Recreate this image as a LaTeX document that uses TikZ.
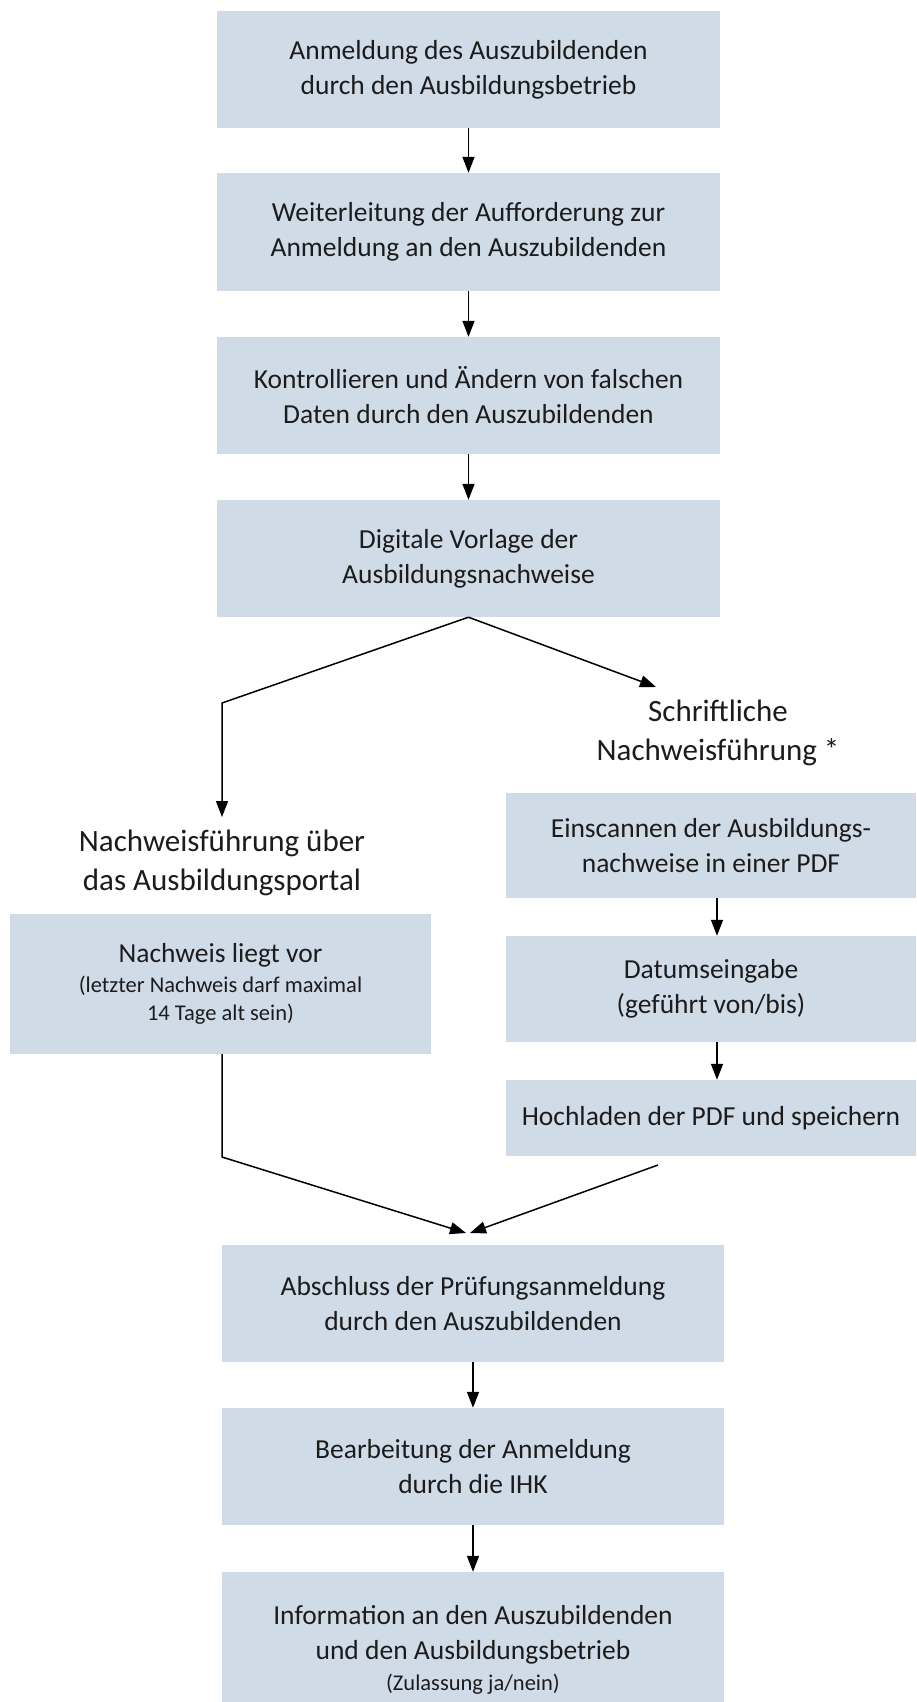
\documentclass[tikz,border=0pt]{standalone}
\usepackage{fontspec}
\setmainfont{Carlito}
\usetikzlibrary{arrows.meta}
\definecolor{boxblue}{RGB}{208,219,232}
\definecolor{txt}{RGB}{28,28,28}
\begin{document}
\begin{tikzpicture}[x=1pt,y=-1pt,
  box/.style={fill=boxblue, draw=none, inner sep=0pt, align=center, text=txt,
              font=\fontsize{27.5}{35}\selectfont},
  head/.style={inner sep=0pt, align=center, text=txt, font=\fontsize{31}{39}\selectfont},
  arr/.style={-{Triangle[length=16pt,width=12pt]}, line width=1.5pt, draw=black}]
\clip (0,0) rectangle (916,1702);
\fill[white] (0,0) rectangle (916,1702);
% main column
\node[box, minimum width=503pt, minimum height=117pt] (b1) at (468.5,69.5)
  {Anmeldung des Auszubildenden\\durch den Ausbildungsbetrieb};
\node[box, minimum width=503pt, minimum height=118pt] (b2) at (468.5,232)
  {Weiterleitung der Aufforderung zur\\Anmeldung an den Auszubildenden};
\node[box, minimum width=503pt, minimum height=117pt] (b3) at (468.5,395.5)
  {Kontrollieren und Ändern von falschen\\Daten durch den Auszubildenden};
\node[box, minimum width=503pt, minimum height=117pt] (b4) at (468.5,558.5)
  {Digitale Vorlage der\\Ausbildungsnachweise};
% headings
\node[head] (rh) at (718,733) {Schriftliche\\Nachweisführung *};
\node[head] (lh) at (222,862.5) {Nachweisführung über\\das Ausbildungsportal};
% right column
\node[box, minimum width=410pt, minimum height=105pt] (r1) at (711,845.5)
  {Einscannen der Ausbildungs-\\nachweise in einer PDF};
\node[box, minimum width=410pt, minimum height=106pt] (r2) at (711,989)
  {Datumseingabe\\(geführt von/bis)};
\node[box, minimum width=410pt, minimum height=76pt] (r3) at (711,1118)
  {Hochladen der PDF und speichern};
% left box
\node[box, minimum width=421pt, minimum height=140pt] (L) at (220.5,984)
  {Nachweis liegt vor\\[-5pt]\fontsize{22.5}{29}\selectfont(letzter Nachweis darf maximal\\[-7pt]\fontsize{22.5}{29}\selectfont 14 Tage alt sein)};
% bottom column
\node[box, minimum width=502pt, minimum height=117pt] (b5) at (473,1303.5)
  {Abschluss der Prüfungsanmeldung\\durch den Auszubildenden};
\node[box, minimum width=502pt, minimum height=117pt] (b6) at (473,1466.5)
  {Bearbeitung der Anmeldung\\durch die IHK};
\node[box, minimum width=502pt, minimum height=156pt] (b7) at (473,1650)
  {Information an den Auszubildenden\\und den Ausbildungsbetrieb\\[-4pt]\fontsize{22.5}{29}\selectfont(Zulassung ja/nein)};
% coordinates
\coordinate (lc) at (222,703);
\coordinate (lt) at (222,817);
\coordinate (rt) at (656,687);
\coordinate (lb) at (222,1157);
\coordinate (m1) at (466,1233);
\coordinate (rb) at (658,1165);
\coordinate (m2) at (470,1233);
% connectors
\draw[arr] (b1.south) -- (b2.north);
\draw[arr] (b2.south) -- (b3.north);
\draw[arr] (b3.south) -- (b4.north);
\draw[arr] (b4.south) -- (lc) -- (lt);
\draw[arr] (b4.south) -- (rt);
\draw[arr] ([xshift=6pt]r1.south) -- ([xshift=6pt]r2.north);
\draw[arr] ([xshift=6pt]r2.south) -- ([xshift=6pt]r3.north);
\draw[arr] (lb |- L.south) -- (lb) -- (m1);
\draw[arr] (rb) -- (m2);
\draw[arr] (b5.south) -- (b6.north);
\draw[arr] (b6.south) -- (b7.north);
\end{tikzpicture}
\end{document}
